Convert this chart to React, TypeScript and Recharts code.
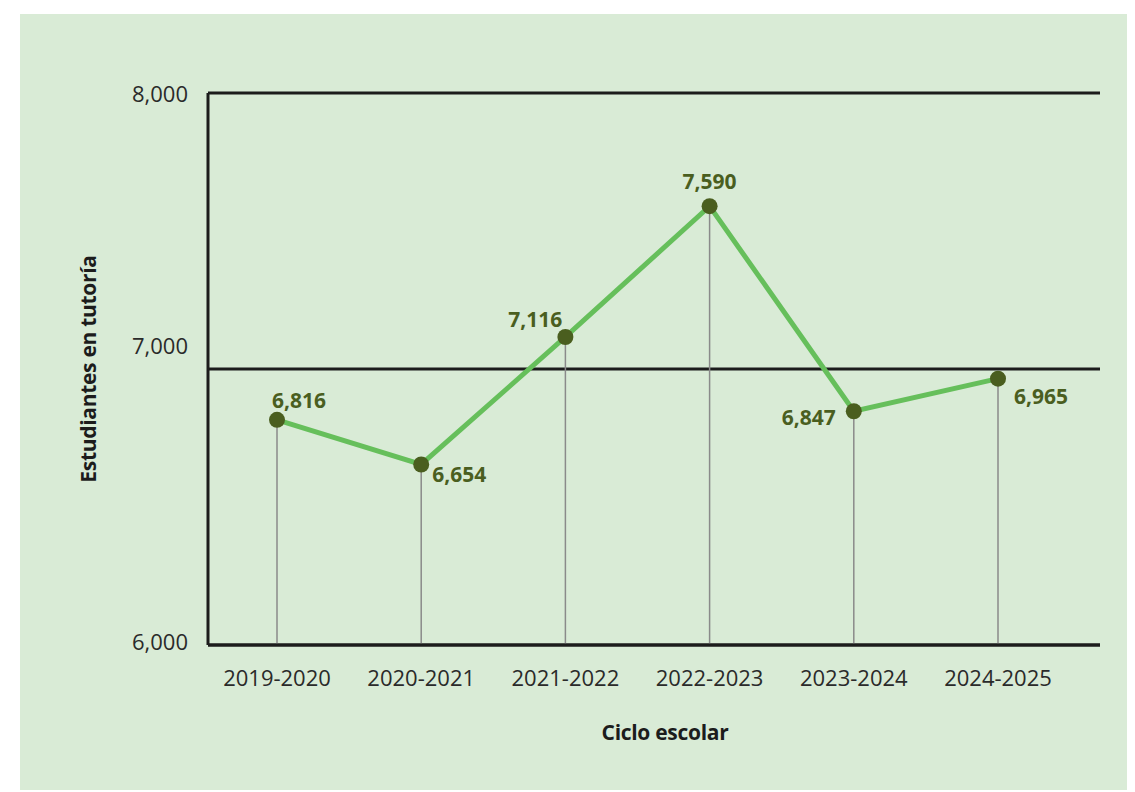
import React from 'react';
import {
  LineChart,
  Line,
  XAxis,
  YAxis,
  CartesianGrid,
  ReferenceLine,
  LabelList,
  Label,
} from 'recharts';

const ciclos = ['2019-2020', '2020-2021', '2021-2022', '2022-2023', '2023-2024', '2024-2025'];
const estudiantes = [6816, 6654, 7116, 7590, 6847, 6965];
const yTicks = [6000, 7000, 8000];
// where each value label sits relative to its point
const labelSpots = ['aboveRight', 'belowRight', 'aboveLeft', 'above', 'left', 'lowRight'];

const data = ciclos.map((ciclo, i) => ({ ciclo, estudiantes: estudiantes[i] }));

const FONT = '"Open Sans", "Noto Sans", sans-serif';
const OLIVE = '#4a5e1f';
const INK = '#1c1c1c';

const spotStyle: Record<string, { dx: number; dy: number; anchor: 'start' | 'middle' | 'end' }> = {
  above: { dx: 0, dy: -25, anchor: 'middle' },
  aboveRight: { dx: -5, dy: -20, anchor: 'start' },
  aboveLeft: { dx: -3, dy: -18, anchor: 'end' },
  belowRight: { dx: 11, dy: 10, anchor: 'start' },
  lowRight: { dx: 16, dy: 17, anchor: 'start' },
  left: { dx: -18, dy: 6, anchor: 'end' },
};

// the source nudges some y tick labels off their gridline
const yTickNudge: Record<number, number> = { 7000: -24, 6000: -4 };

const fmt = (v: number) => v.toLocaleString('en-US');

// eslint-disable-next-line @typescript-eslint/no-explicit-any
function ValueLabel({ x, y, value, index }: any) {
  const s = spotStyle[labelSpots[index]] ?? spotStyle.above;
  return (
    <text
      x={x + s.dx}
      y={y + s.dy}
      textAnchor={s.anchor}
      dominantBaseline="central"
      fontFamily={FONT}
      fontSize={21}
      fontWeight={700}
      fill={OLIVE}
    >
      {fmt(Number(value))}
    </text>
  );
}

// eslint-disable-next-line @typescript-eslint/no-explicit-any
function XTick({ x, y, payload }: any) {
  return (
    <text x={x} y={y + 32} textAnchor="middle" dominantBaseline="central" fontFamily={FONT} fontSize={22} fill="#2a2a2a">
      {payload.value}
    </text>
  );
}

// eslint-disable-next-line @typescript-eslint/no-explicit-any
function YTick({ x, y, payload }: any) {
  const nudge = yTickNudge[payload.value] ?? 0;
  return (
    <text x={x} y={y + nudge} textAnchor="end" dominantBaseline="central" fontFamily={FONT} fontSize={22} fill="#2a2a2a">
      {fmt(payload.value)}
    </text>
  );
}

export default function App() {
  return (
    <div style={{ position: 'relative', width: 1119, height: 784 }}>
      <div
        style={{
          position: 'absolute',
          left: 12,
          top: 6,
          width: 1108,
          height: 776,
          background: '#d9ebd6',
        }}
      >
        <LineChart width={1108} height={776} data={data} margin={{ top: 79, right: 28, left: 108, bottom: 115 }}>
          <CartesianGrid vertical={false} stroke={INK} strokeWidth={3} />
          <XAxis
            dataKey="ciclo"
            height={30}
            padding={{ left: 69, right: 102 }}
            axisLine={{ stroke: INK, strokeWidth: 3 }}
            tickLine={false}
            tickSize={0}
            tickMargin={0}
            tick={<XTick />}
            interval={0}
          >
            <Label
              content={({ viewBox }: any) => (
                <text
                  x={viewBox.x + viewBox.width / 2 + 11}
                  y={viewBox.y + 87}
                  textAnchor="middle"
                  dominantBaseline="central"
                  fontFamily={FONT}
                  fontSize={21}
                  fontWeight={700}
                  fill={INK}
                  letterSpacing={-0.3}
                >
                  Ciclo escolar
                </text>
              )}
            />
          </XAxis>
          <YAxis
            width={80}
            domain={[6000, 8000]}
            ticks={yTicks}
            axisLine={{ stroke: INK, strokeWidth: 3 }}
            tickLine={false}
            tickSize={0}
            tickMargin={20}
            tick={<YTick />}
          >
            <Label
              content={({ viewBox }: any) => {
                const cx = viewBox.x - 40;
                const cy = viewBox.y + viewBox.height / 2;
                return (
                  <text
                    x={cx}
                    y={cy}
                    transform={`rotate(-90 ${cx} ${cy})`}
                    textAnchor="middle"
                    dominantBaseline="central"
                    fontFamily={FONT}
                    fontSize={21}
                    fontWeight={700}
                    fill={INK}
                    letterSpacing={-0.3}
                  >
                    Estudiantes en tutoría
                  </text>
                );
              }}
            />
          </YAxis>
          {data.map((d) => (
            <ReferenceLine
              key={d.ciclo}
              segment={[
                { x: d.ciclo, y: 6000 },
                { x: d.ciclo, y: d.estudiantes },
              ]}
              stroke="#8a8a8a"
              strokeWidth={1.5}
            />
          ))}
          <Line
            type="linear"
            dataKey="estudiantes"
            stroke="#66bf5b"
            strokeWidth={5}
            dot={{ r: 8, fill: OLIVE, stroke: OLIVE, strokeWidth: 0 }}
            activeDot={false}
            isAnimationActive={false}
          >
            <LabelList dataKey="estudiantes" content={<ValueLabel />} />
          </Line>
        </LineChart>
      </div>
    </div>
  );
}
